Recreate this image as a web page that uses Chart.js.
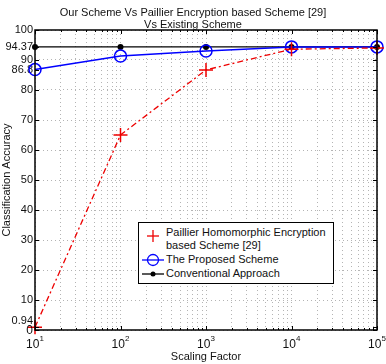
<!DOCTYPE html>
<html>
<head>
<meta charset="UTF-8">
<script src="https://cdn.jsdelivr.net/npm/chart.js"></script>
<style>
  body { margin: 0; background: #fff; }
  #wrap { position: relative; width: 386px; height: 364px; font-family: "Liberation Sans", Arial, sans-serif; }
  #title { position: absolute; left: 0; top: 6px; width: 386px; text-align: center; font-size: 11px; line-height: 12px; color: #111; }
  #legend { position: absolute; left: 138px; top: 222px; width: 194px; height: 60px; border: 1px solid #000; background: #fff; font-size: 11px; color: #111; }
  #legend svg { position: absolute; left: 3px; }
  #legend span { position: absolute; left: 27px; white-space: nowrap; line-height: 13px; }
</style>
</head>
<body>
<div id="wrap">
  <canvas id="c" width="386" height="364"></canvas>
  <div id="title">Our Scheme Vs Paillier Encryption based Scheme [29]<br>Vs Existing Scheme</div>
  <div id="legend">
    <svg style="top:5px" width="22" height="16"><line x1="11" y1="2" x2="11" y2="14" stroke="#e00" stroke-width="1.3"/><line x1="5" y1="8" x2="17" y2="8" stroke="#e00" stroke-width="1.3"/></svg>
    <span style="top:3px">Paillier Homomorphic Encryption<br>based Scheme [29]</span>
    <svg style="top:30px" width="22" height="14"><line x1="0" y1="7" x2="22" y2="7" stroke="#00f" stroke-width="1.3"/><circle cx="11" cy="7" r="5.5" fill="none" stroke="#00f" stroke-width="1.3"/></svg>
    <span style="top:30px">The Proposed Scheme</span>
    <svg style="top:44px" width="22" height="14"><line x1="0" y1="7" x2="22" y2="7" stroke="#000" stroke-width="1.3"/><circle cx="11" cy="7" r="2.5" fill="#000"/></svg>
    <span style="top:44px">Conventional Approach</span>
  </div>
</div>
<script>
const scalingFactor = [10, 100, 1000, 10000, 100000];
const paillier = [0.94, 65, 86.7, 93.6, 94];
const proposed = [86.8, 91.3, 93.0, 94.37, 94.37];
const conventional = [94.37, 94.37, 94.37, 94.37, 94.37];
const yTicks = [0, 0.94, 10, 20, 30, 40, 50, 60, 70, 80, 86.8, 90, 94.37, 100];
const yLabels = {0.94: '0.94', 86.8: '86.8', 94.37: '94.37'};

function pts(ys) { return scalingFactor.map((x, i) => ({x: x, y: ys[i]})); }

const xTicks = [];
for (let d = 10; d < 100000; d *= 10) for (let m = 1; m < 10; m++) xTicks.push(d * m);
xTicks.push(100000);

const FONT = '"Liberation Sans", Arial, sans-serif';

const frame = {
  id: 'frame',
  afterDraw(chart) {
    const ctx = chart.ctx, a = chart.chartArea, xs = chart.scales.x, ys = chart.scales.y;
    ctx.save();
    ctx.strokeStyle = '#000';
    ctx.lineWidth = 1.5;
    ctx.strokeRect(a.left, a.top, a.right - a.left, a.bottom - a.top);
    ctx.lineWidth = 1;
    // inward tick marks
    xTicks.forEach(v => {
      const px = Math.round(xs.getPixelForValue(v)) + 0.5;
      const major = Math.abs(Math.log10(v) % 1) < 1e-9;
      const len = major ? 4 : 2;
      ctx.beginPath();
      ctx.moveTo(px, a.bottom); ctx.lineTo(px, a.bottom - len);
      ctx.moveTo(px, a.top); ctx.lineTo(px, a.top + len);
      ctx.stroke();
    });
    yTicks.forEach(v => {
      const py = Math.round(ys.getPixelForValue(v)) + 0.5;
      ctx.beginPath();
      ctx.moveTo(a.left, py); ctx.lineTo(a.left + 4, py);
      ctx.moveTo(a.right, py); ctx.lineTo(a.right - 4, py);
      ctx.stroke();
    });
    ctx.fillStyle = '#111';
    // 0 and 0.94 labels (0.94 sits just above 0)
    ctx.font = '11px ' + FONT;
    ctx.textAlign = 'right';
    ctx.textBaseline = 'middle';
    ctx.fillText('0.94', a.left - 2, ys.getPixelForValue(0.94) - 6);
    ctx.font = '12px ' + FONT;
    ctx.fillText('0', a.left - 2, ys.getPixelForValue(0) + 1);
    // x labels with superscript exponents
    ctx.textBaseline = 'alphabetic';
    ctx.textAlign = 'left';
    [1, 2, 3, 4, 5].forEach(e => {
      const px = xs.getPixelForValue(Math.pow(10, e));
      ctx.font = '12px ' + FONT;
      const w = ctx.measureText('10').width;
      ctx.font = '8px ' + FONT;
      const we = ctx.measureText(String(e)).width;
      const start = px - (w + we) / 2;
      ctx.font = '12px ' + FONT;
      ctx.fillText('10', start, a.bottom + 18);
      ctx.font = '8px ' + FONT;
      ctx.fillText(String(e), start + w, a.bottom + 11);
    });
    ctx.restore();
  }
};

new Chart(document.getElementById('c'), {
  type: 'line',
  data: {
    datasets: [
      {
        label: 'Paillier Homomorphic Encryption based Scheme [29]',
        data: pts(paillier),
        borderColor: '#e00',
        borderWidth: 1.3,
        borderDash: [6, 3, 2, 3],
        pointStyle: 'cross',
        pointRadius: 7,
        pointBorderWidth: 1.5,
        pointBorderColor: '#e00',
        backgroundColor: '#e00'
      },
      {
        label: 'The Proposed Scheme',
        data: pts(proposed),
        borderColor: '#00f',
        borderWidth: 1.5,
        pointStyle: 'circle',
        pointRadius: 6,
        pointBorderWidth: 1.5,
        pointBorderColor: '#00f',
        pointBackgroundColor: 'rgba(0,0,0,0)'
      },
      {
        label: 'Conventional Approach',
        data: pts(conventional),
        borderColor: '#000',
        borderWidth: 1.3,
        pointStyle: 'circle',
        pointRadius: 3,
        pointBorderWidth: 0,
        pointBackgroundColor: '#000'
      }
    ]
  },
  options: {
    responsive: false,
    animation: false,
    clip: false,
    layout: { padding: { top: 30, right: 9, left: 0, bottom: 0 } },
    plugins: { legend: { display: false }, title: { display: false }, tooltip: { enabled: false } },
    scales: {
      x: {
        type: 'logarithmic',
        min: 10,
        max: 100000,
        afterBuildTicks(s) { s.ticks = xTicks.map(v => ({value: v})); },
        afterFit(s) { s.height = 34; },
        ticks: { autoSkip: false, maxRotation: 0, callback: () => '' },
        grid: { color: '#b4b4b4', lineWidth: 1, drawTicks: false },
        border: { display: false, dash: [1, 3] },
        title: { display: true, text: 'Scaling Factor', color: '#111', font: { size: 11, family: FONT }, padding: { top: 10, bottom: 0 } }
      },
      y: {
        min: 0,
        max: 100,
        afterBuildTicks(s) { s.ticks = yTicks.map(v => ({value: v})); },
        afterFit(s) { s.width = 35; },
        ticks: {
          autoSkip: false,
          padding: 2,
          color: '#111',
          font: { size: 11, family: FONT },
          callback: v => (v === 0.94 || v === 0) ? '' : (yLabels[v] || String(v))
        },
        grid: {
          color: c => (c.tick && c.tick.value % 10 === 0) ? '#b4b4b4' : 'rgba(0,0,0,0)',
          lineWidth: 1,
          drawTicks: false
        },
        border: { display: false, dash: [1, 3] },
        title: { display: true, text: 'Classification Accuracy', color: '#111', font: { size: 11, family: FONT }, padding: { top: 0, bottom: 0 } }
      }
    }
  },
  plugins: [frame]
});
</script>
</body>
</html>
